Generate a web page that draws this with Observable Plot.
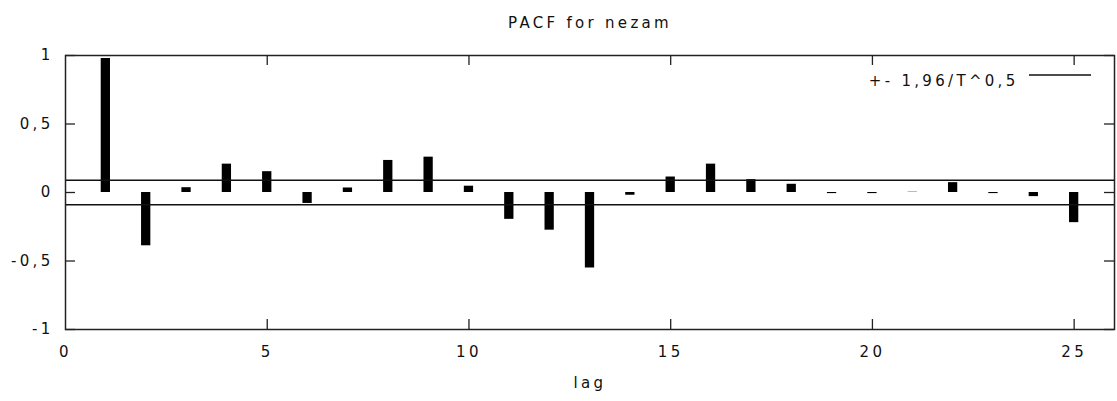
<!DOCTYPE html>
<html>
<head>
<meta charset="utf-8">
<script src="https://cdn.jsdelivr.net/npm/d3@7"></script>
<script src="https://cdn.jsdelivr.net/npm/@observablehq/plot@0.6"></script>
<style>
  html, body { margin: 0; padding: 0; background: white; }
  svg text { letter-spacing: 3.3px; font-size: 15px; font-family: "DejaVu Sans", sans-serif; }
</style>
</head>
<body>
<div id="chart"></div>
<script>
const titleText = "PACF for nezam";
const xLabel = "lag";
const legendLabel = "+- 1,96/T^0,5";
const lags = [1,2,3,4,5,6,7,8,9,10,11,12,13,14,15,16,17,18,19,20,21,22,23,24,25];
const pacf = [0.978,-0.389,0.035,0.207,0.152,-0.080,0.033,0.234,0.258,0.046,-0.196,-0.275,-0.551,-0.020,0.113,0.207,0.094,0.060,-0.008,-0.008,0.002,0.072,-0.008,-0.030,-0.220];
const band = 0.0894;
const xTicks = [0,5,10,15,20,25];
const yTicks = [-1,-0.5,0,0.5,1];

const data = lags.map((lag, i) => ({lag, v: pacf[i]}));
const fmt = d => String(d).replace(".", ",");
const halfW = 0.115;

const W = 1117, H = 401, mL = 65, mR = 3, mT = 55, mB = 72;
const pw = W - mL - mR, ph = H - mT - mB, tl = 10;

const chart = Plot.plot({
  width: W, height: H,
  marginLeft: mL, marginRight: mR, marginTop: mT, marginBottom: mB,
  x: {domain: [0, 26]},
  y: {domain: [-1, 1]},
  style: {fontFamily: "DejaVu Sans", fontSize: "15px", color: "#111", background: "white", overflow: "visible"},
  marks: [
    Plot.rectY(data, {x1: d => d.lag - halfW, x2: d => d.lag + halfW, y: "v", fill: "black"}),
    Plot.ruleY([band, -band], {stroke: "#111", strokeWidth: 1.5}),
    Plot.ruleX(xTicks.slice(1), {insetTop: ph - tl, stroke: "#222", strokeWidth: 1.3}),
    Plot.ruleX(xTicks.slice(1), {insetBottom: ph - tl, stroke: "#222", strokeWidth: 1.3}),
    Plot.ruleY(yTicks, {insetRight: pw - tl, stroke: "#222", strokeWidth: 1.3}),
    Plot.ruleY(yTicks, {insetLeft: pw - tl, stroke: "#222", strokeWidth: 1.3}),
    Plot.frame({stroke: "#222", strokeWidth: 1.5}),
    Plot.axisX(xTicks, {anchor: "bottom", tickSize: 0, tickPadding: 17, tickFormat: fmt, label: null, fill: "#111"}),
    Plot.axisY(yTicks, {anchor: "left", tickSize: 0, tickPadding: 12, tickFormat: fmt, label: null, fill: "#111"}),
    Plot.text([xLabel], {frameAnchor: "bottom", dy: 58, fill: "#111"}),
    Plot.text([titleText], {frameAnchor: "top", dy: -38, fill: "#111"}),
    Plot.text([legendLabel], {frameAnchor: "top-right", dx: -96, dy: 20, textAnchor: "end", fill: "#111"})
  ]
});

const svg = d3.select(chart);
svg.append("line")
  .attr("x1", W - mR - 85).attr("x2", W - mR - 23)
  .attr("y1", mT + 20).attr("y2", mT + 20)
  .attr("stroke", "#111").attr("stroke-width", 1.3);

document.getElementById("chart").appendChild(chart);
</script>
</body>
</html>
